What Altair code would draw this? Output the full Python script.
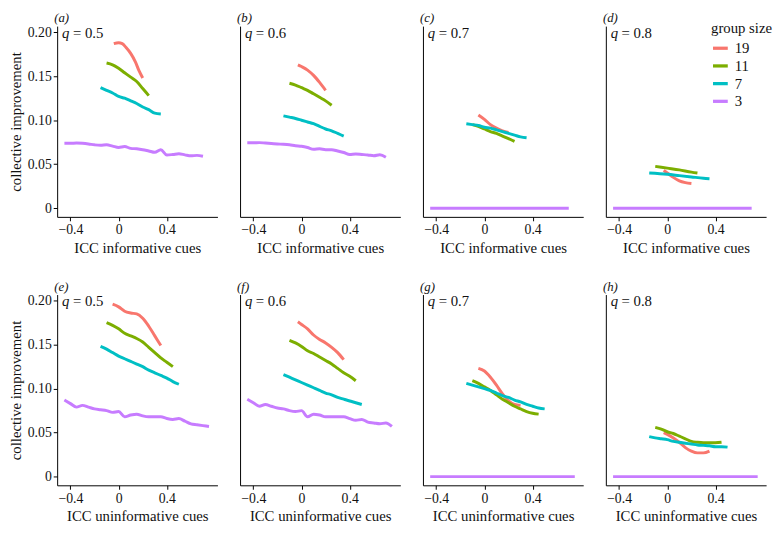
import altair as alt
import pandas as pd

FONT = "Liberation Serif"
GROUPS = ["19", "11", "7", "3"]
COLORS = ["#F8766D", "#7CAE00", "#00BFC4", "#C77CFF"]
PANEL_LABELS = ["(a)", "(b)", "(c)", "(d)", "(e)", "(f)", "(g)", "(h)"]
Q_LABELS = ["= 0.5", "= 0.6", "= 0.7", "= 0.8", "= 0.5", "= 0.6", "= 0.7", "= 0.8"]
X_TITLES = ["ICC informative cues"] * 4 + ["ICC uninformative cues"] * 4
X_TICKS = [-0.4, 0, 0.4]
Y_TICKS = [0, 0.05, 0.10, 0.15, 0.20]
X_DOMAIN = [-0.51, 0.82]
Y_DOMAIN = [-0.0099, 0.207]

# x grids
X_PURPLE_TOP = [-0.45, -0.4, -0.35, -0.3, -0.25, -0.2, -0.15, -0.1, -0.05, 0.0, 0.05, 0.1,
                0.15, 0.2, 0.25, 0.3, 0.35, 0.4, 0.45, 0.5, 0.55, 0.6, 0.65, 0.7]
X_PURPLE_BOT = [-0.45, -0.4, -0.35, -0.3, -0.25, -0.2, -0.15, -0.1, -0.05, 0.0, 0.05, 0.1,
                0.15, 0.2, 0.25, 0.3, 0.35, 0.4, 0.45, 0.5, 0.55, 0.6, 0.65, 0.7, 0.75]
X_FLAT_TOP = [-0.45, 0.70]
X_FLAT_BOT = [-0.45, 0.75]
Y_FLAT = [0.0, 0.0]

# panel (a)
A19_X = [-0.04, 0.0, 0.03, 0.06, 0.10, 0.14, 0.17, 0.20]
A19_Y = [0.187, 0.188, 0.187, 0.183, 0.176, 0.166, 0.156, 0.148]
A11_X = [-0.1, -0.05, 0.0, 0.05, 0.1, 0.15, 0.2, 0.25]
A11_Y = [0.165, 0.163, 0.159, 0.154, 0.149, 0.144, 0.136, 0.128]
A7_X = [-0.15, -0.1, -0.05, 0.0, 0.05, 0.1, 0.15, 0.2, 0.25, 0.3, 0.35]
A7_Y = [0.137, 0.134, 0.131, 0.127, 0.125, 0.122, 0.119, 0.115, 0.112, 0.108, 0.107]
A3_Y = [0.0737, 0.0737, 0.074, 0.0737, 0.073, 0.072, 0.0715, 0.072, 0.0705, 0.069, 0.070, 0.068,
        0.0675, 0.0665, 0.065, 0.0635, 0.0665, 0.0605, 0.061, 0.0618, 0.0606, 0.0595, 0.060, 0.059]

# panel (b)
B19_X = [-0.03, 0.0, 0.05, 0.1, 0.15, 0.2]
B19_Y = [0.163, 0.161, 0.157, 0.151, 0.143, 0.134]
B11_X = [-0.1, -0.05, 0.0, 0.05, 0.1, 0.15, 0.2, 0.25]
B11_Y = [0.142, 0.140, 0.137, 0.134, 0.130, 0.126, 0.122, 0.117]
B7_X = [-0.15, -0.1, -0.05, 0.0, 0.05, 0.1, 0.15, 0.2, 0.25, 0.3, 0.35]
B7_Y = [0.105, 0.1035, 0.102, 0.100, 0.098, 0.096, 0.093, 0.090, 0.088, 0.085, 0.082]
B3_Y = [0.0744, 0.0744, 0.0745, 0.074, 0.0735, 0.073, 0.0726, 0.072, 0.071, 0.0704, 0.069, 0.067,
        0.0675, 0.0665, 0.0665, 0.065, 0.0633, 0.061, 0.0615, 0.061, 0.0605, 0.0596, 0.0607, 0.058]

# panel (c)
C19_X = [-0.05, 0.0, 0.05, 0.1, 0.15, 0.2]
C19_Y = [0.106, 0.101, 0.095, 0.091, 0.088, 0.086]
C11_X = [-0.1, -0.05, 0.0, 0.05, 0.1, 0.15, 0.2, 0.25]
C11_Y = [0.095, 0.093, 0.090, 0.087, 0.085, 0.082, 0.079, 0.076]
C7_X = [-0.15, -0.1, -0.05, 0.0, 0.05, 0.1, 0.15, 0.2, 0.25, 0.3, 0.35]
C7_Y = [0.096, 0.095, 0.094, 0.092, 0.091, 0.089, 0.087, 0.085, 0.083, 0.081, 0.080]

# panel (d)
D19_X = [-0.03, 0.0, 0.05, 0.1, 0.15, 0.2]
D19_Y = [0.043, 0.040, 0.035, 0.031, 0.029, 0.028]
D11_X = [-0.1, 0.0, 0.1, 0.2, 0.25]
D11_Y = [0.0475, 0.0455, 0.0435, 0.041, 0.040]
D7_X = [-0.15, 0.0, 0.1, 0.2, 0.3, 0.35]
D7_Y = [0.040, 0.0385, 0.037, 0.0355, 0.034, 0.0335]

# panel (e)
E19_X = [-0.05, 0.0, 0.05, 0.1, 0.15, 0.2, 0.25, 0.3, 0.35]
E19_Y = [0.196, 0.193, 0.188, 0.186, 0.185, 0.180, 0.171, 0.160, 0.149]
E11_X = [-0.1, -0.05, 0.0, 0.05, 0.1, 0.15, 0.2, 0.25, 0.3, 0.35, 0.4, 0.45]
E11_Y = [0.175, 0.172, 0.168, 0.163, 0.160, 0.157, 0.153, 0.147, 0.141, 0.135, 0.130, 0.125]
E7_X = [-0.15, -0.1, -0.05, 0.0, 0.05, 0.1, 0.15, 0.2, 0.25, 0.3, 0.35, 0.4, 0.45, 0.5]
E7_Y = [0.148, 0.145, 0.141, 0.137, 0.134, 0.131, 0.128, 0.125, 0.121, 0.118, 0.115, 0.112, 0.108, 0.105]
E3_Y = [0.087, 0.083, 0.079, 0.081, 0.079, 0.077, 0.076, 0.075, 0.073, 0.074, 0.068, 0.070, 0.071,
        0.069, 0.068, 0.068, 0.068, 0.066, 0.065, 0.066, 0.063, 0.060, 0.059, 0.058, 0.057]

# panel (f)
F19_X = [-0.03, 0.0, 0.05, 0.1, 0.15, 0.2, 0.25, 0.3, 0.35]
F19_Y = [0.176, 0.173, 0.168, 0.161, 0.156, 0.152, 0.147, 0.141, 0.133]
F11_X = [-0.1, -0.05, 0.0, 0.05, 0.1, 0.15, 0.2, 0.25, 0.3, 0.35, 0.4, 0.45]
F11_Y = [0.155, 0.152, 0.148, 0.143, 0.140, 0.136, 0.132, 0.128, 0.123, 0.118, 0.114, 0.109]
F7_X = [-0.15, -0.1, -0.05, 0.0, 0.05, 0.1, 0.15, 0.2, 0.25, 0.3, 0.35, 0.4, 0.45, 0.5]
F7_Y = [0.116, 0.113, 0.110, 0.107, 0.104, 0.101, 0.098, 0.095, 0.093, 0.090, 0.088, 0.086, 0.084, 0.082]
F3_Y = [0.088, 0.084, 0.080, 0.082, 0.080, 0.078, 0.077, 0.075, 0.074, 0.075, 0.068, 0.071, 0.070,
        0.068, 0.068, 0.068, 0.068, 0.066, 0.064, 0.065, 0.062, 0.061, 0.060, 0.061, 0.057]

# panel (g)
G19_X = [-0.05, 0.0, 0.05, 0.1, 0.15, 0.2, 0.25, 0.3]
G19_Y = [0.123, 0.120, 0.113, 0.104, 0.094, 0.086, 0.082, 0.081]
G11_X = [-0.1, -0.05, 0.0, 0.05, 0.1, 0.15, 0.2, 0.25, 0.3, 0.35, 0.4, 0.45]
G11_Y = [0.109, 0.106, 0.102, 0.098, 0.093, 0.088, 0.084, 0.080, 0.077, 0.074, 0.072, 0.071]
G7_X = [-0.15, -0.1, -0.05, 0.0, 0.05, 0.1, 0.15, 0.2, 0.25, 0.3, 0.35, 0.4, 0.45, 0.5]
G7_Y = [0.106, 0.104, 0.102, 0.100, 0.098, 0.095, 0.092, 0.090, 0.087, 0.085, 0.082, 0.080, 0.078, 0.077]

# panel (h)
H19_X = [-0.03, 0.0, 0.05, 0.1, 0.15, 0.2, 0.25, 0.3, 0.35]
H19_Y = [0.050, 0.048, 0.044, 0.039, 0.033, 0.029, 0.027, 0.027, 0.029]
H11_X = [-0.1, -0.05, 0.0, 0.05, 0.1, 0.15, 0.2, 0.25, 0.3, 0.35, 0.4, 0.45]
H11_Y = [0.056, 0.054, 0.051, 0.049, 0.046, 0.043, 0.040, 0.039, 0.0385, 0.0385, 0.0385, 0.039]
H7_X = [-0.15, -0.1, -0.05, 0.0, 0.05, 0.1, 0.15, 0.2, 0.25, 0.3, 0.35, 0.4, 0.45, 0.5]
H7_Y = [0.0455, 0.044, 0.043, 0.042, 0.040, 0.039, 0.038, 0.037, 0.036, 0.0355, 0.035, 0.034, 0.034, 0.0335]

SERIES = [
    [(A19_X, A19_Y), (A11_X, A11_Y), (A7_X, A7_Y), (X_PURPLE_TOP, A3_Y)],
    [(B19_X, B19_Y), (B11_X, B11_Y), (B7_X, B7_Y), (X_PURPLE_TOP, B3_Y)],
    [(C19_X, C19_Y), (C11_X, C11_Y), (C7_X, C7_Y), (X_FLAT_TOP, Y_FLAT)],
    [(D19_X, D19_Y), (D11_X, D11_Y), (D7_X, D7_Y), (X_FLAT_TOP, Y_FLAT)],
    [(E19_X, E19_Y), (E11_X, E11_Y), (E7_X, E7_Y), (X_PURPLE_BOT, E3_Y)],
    [(F19_X, F19_Y), (F11_X, F11_Y), (F7_X, F7_Y), (X_PURPLE_BOT, F3_Y)],
    [(G19_X, G19_Y), (G11_X, G11_Y), (G7_X, G7_Y), (X_FLAT_BOT, Y_FLAT)],
    [(H19_X, H19_Y), (H11_X, H11_Y), (H7_X, H7_Y), (X_FLAT_BOT, Y_FLAT)],
]

W = 163
H = 194


def make_legend(i):
    if i != 3:
        return None
    return alt.Legend(
        title="group size", orient="none", legendX=107, legendY=-5,
        titleAnchor="start", titleAlign="left",
        symbolType="stroke", symbolStrokeWidth=3.3, symbolSize=225,
        rowPadding=0, titlePadding=3, labelOffset=5, padding=0,
    )


def panel(i):
    rows = []
    for g, (xs, ys) in zip(GROUPS, SERIES[i]):
        for x, y in zip(xs, ys):
            rows.append({"icc": x, "imp": y, "group": g})
    df = pd.DataFrame(rows)
    first_col = i % 4 == 0
    if first_col:
        yaxis = alt.Axis(values=Y_TICKS, title="collective improvement",
                         labelExpr="datum.value == 0 ? '0' : format(datum.value, '.2f')")
    else:
        yaxis = alt.Axis(labels=False, ticks=False, title=None)
    xaxis = alt.Axis(values=X_TICKS, title=X_TITLES[i],
                     labelExpr="datum.value == 0 ? '0' : format(datum.value, '.1f')")
    lines = alt.Chart(df).mark_line(strokeWidth=3, strokeCap="butt", interpolate="monotone").encode(
        x=alt.X("icc:Q", scale=alt.Scale(domain=X_DOMAIN, nice=False, zero=False), axis=xaxis),
        y=alt.Y("imp:Q", scale=alt.Scale(domain=Y_DOMAIN, nice=False, zero=False), axis=yaxis),
        color=alt.Color("group:N", scale=alt.Scale(domain=GROUPS, range=COLORS),
                        sort=GROUPS, legend=make_legend(i)),
    )
    qt = alt.Chart(pd.DataFrame({"t": ["q"]})).mark_text(
        align="left", baseline="middle", fontStyle="italic", fontSize=15, font=FONT, color="#111"
    ).encode(text="t:N", x=alt.value(5), y=alt.value(7))
    eq = alt.Chart(pd.DataFrame({"t": [Q_LABELS[i]]})).mark_text(
        align="left", baseline="middle", fontSize=15, font=FONT, color="#111"
    ).encode(text="t:N", x=alt.value(16), y=alt.value(7))
    lab = alt.Chart(pd.DataFrame({"t": [PANEL_LABELS[i]]})).mark_text(
        align="left", baseline="top", fontStyle="italic", fontSize=13, font=FONT, color="#111"
    ).encode(text="t:N", x=alt.value(-3), y=alt.value(-14))
    return alt.layer(lines, qt, eq, lab).properties(width=W, height=H)


top = alt.hconcat(*[panel(i) for i in range(4)], spacing=20).resolve_legend(color="independent")
bottom = alt.hconcat(*[panel(i) for i in range(4, 8)], spacing=20).resolve_legend(color="independent")

chart = alt.vconcat(top, bottom, spacing=26).resolve_legend(color="independent").properties(
    padding={"left": 0, "top": 0, "right": 0, "bottom": 0}
).configure_view(stroke=None).configure_axis(
    grid=False, domainColor="#000", tickColor="#000", tickSize=4, domainWidth=1,
    labelFont=FONT, titleFont=FONT, labelFontSize=14, titleFontSize=15,
    labelColor="#111", titleColor="#111", titleFontWeight="normal",
    labelPadding=2, titlePadding=4,
).configure_legend(
    titleFont=FONT, labelFont=FONT, titleFontSize=15, labelFontSize=15,
    titleFontWeight="normal", titleColor="#111", labelColor="#111",
)

chart.save("out.html", embed_options={"renderer": "svg", "actions": False})
